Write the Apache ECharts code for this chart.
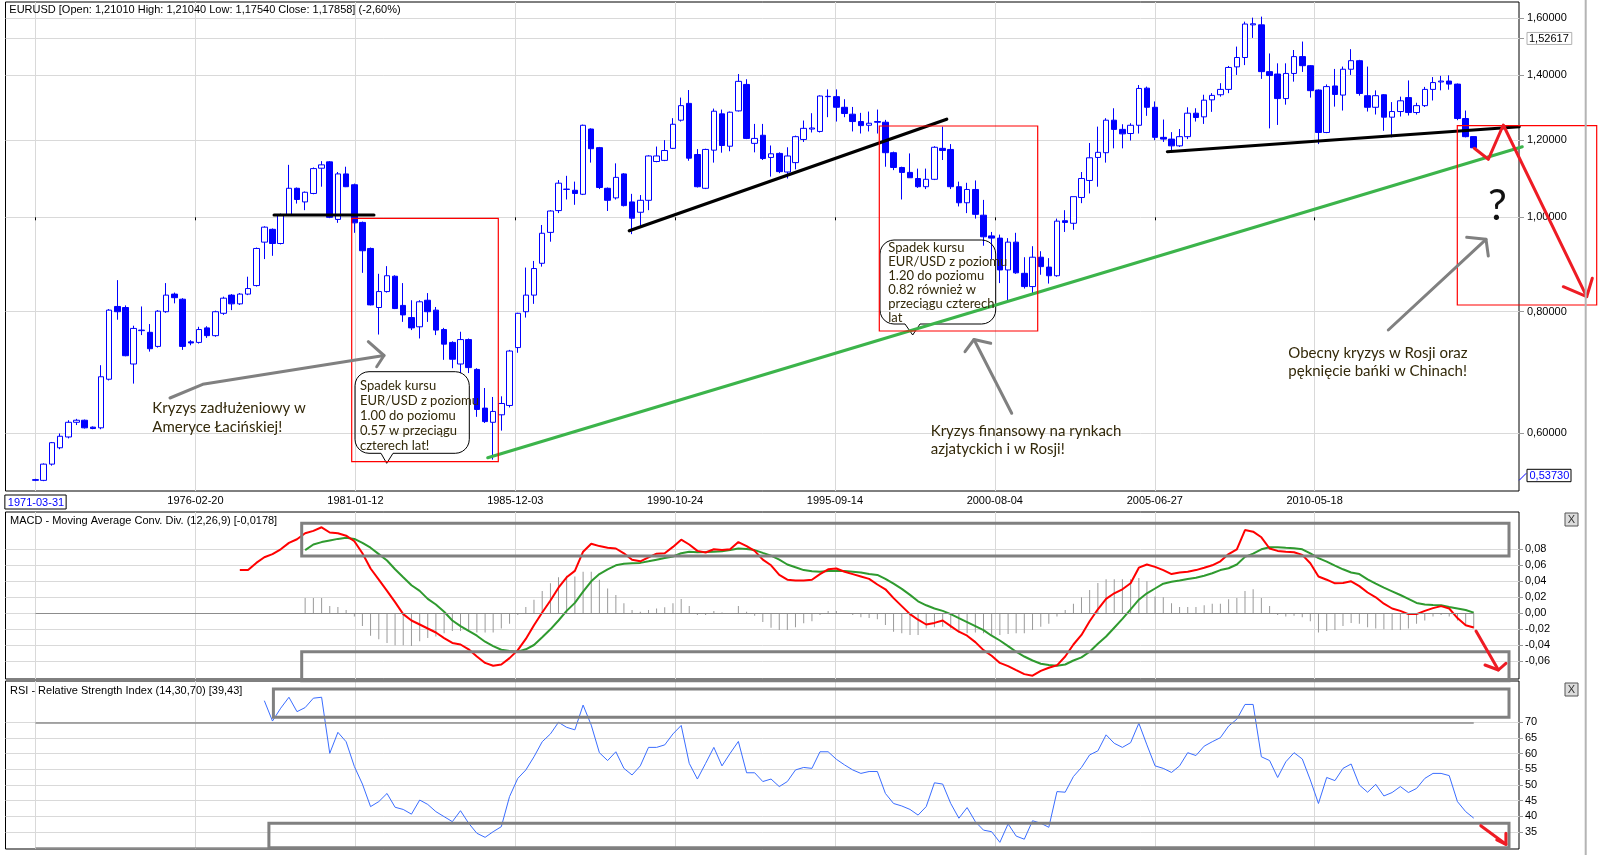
<!DOCTYPE html>
<html><head><meta charset="utf-8">
<script src="https://cdn.jsdelivr.net/npm/echarts@6/dist/echarts.min.js"></script>
<style>html,body{margin:0;padding:0;background:#fff}#c{width:1599px;height:855px}</style>
</head><body><div id="c"></div>
<script>
// ---------------- DATA (quarterly EUR/USD) ----------------
const OPEN = [.537,.537,.558,.580,.595,.616,.619,.609,.608,.682,
.810,.808,.707,.765,.762,.737,.800,.834,.824,.745,
.744,.770,.756,.797,.832,.815,.834,.851,.943,.972,
.940,1.005,1.071,1.037,1.058,1.123,1.140,.995,1.108,1.080,
.988,.929,.808,.839,.870,.812,.789,.772,.822,.803,
.767,.744,.707,.749,.698,.637,.616,.627,.641,.735,
.800,.832,.897,.965,1.016,1.068,1.066,1.056,1.232,1.179,
1.071,1.047,1.108,1.037,1.012,1.041,1.141,1.144,1.177,1.258,
1.309,1.160,1.071,1.172,1.277,1.183,1.286,1.369,1.191,1.214,
1.152,1.163,1.113,1.138,1.202,1.232,1.225,1.330,1.330,1.297,
1.276,1.254,1.243,1.254,1.252,1.165,1.125,1.112,1.096,1.075,
1.094,1.177,1.174,1.075,1.035,1.068,1.005,.957,.952,.883,
.943,.876,.849,.910,.889,.871,.992,.986,1.048,1.091,
1.152,1.165,1.258,1.231,1.219,1.243,1.357,1.297,1.208,1.203,
1.184,1.210,1.279,1.268,1.320,1.336,1.353,1.427,1.459,1.576,
1.576,1.411,1.403,1.324,1.405,1.462,1.431,1.351,1.222,1.364,
1.335,1.419,1.448,1.333,1.297,1.336,1.267,1.284,1.327,1.281,
1.302,1.353,1.377,1.380,1.370,1.263,1.2101];
const HIGH = [.539,.559,.588,.600,.619,.621,.620,.610,.705,.805,
.862,.812,.774,.810,.777,.803,.856,.837,.826,.748,
.772,.773,.802,.829,.834,.836,.869,.931,.979,.974,
1.009,1.132,1.073,1.063,1.125,1.142,1.142,1.113,1.127,1.083,
.990,.931,.875,.891,.872,.856,.822,.822,.836,.809,
.770,.746,.763,.751,.700,.668,.654,.655,.731,.798,
.888,.902,.982,1.017,1.092,1.103,1.088,1.245,1.234,1.181,
1.073,1.136,1.110,1.057,1.054,1.158,1.182,1.200,1.264,1.327,
1.351,1.175,1.176,1.293,1.290,1.284,1.403,1.386,1.247,1.247,
1.185,1.166,1.180,1.213,1.257,1.279,1.334,1.353,1.353,1.322,
1.298,1.280,1.284,1.290,1.259,1.168,1.127,1.163,1.122,1.122,
1.183,1.239,1.189,1.088,1.085,1.091,1.042,.966,.960,.952,
.964,.910,.934,.923,.908,.997,1.017,1.050,1.113,1.192,
1.239,1.264,1.294,1.246,1.249,1.367,1.362,1.315,1.260,1.223,
1.232,1.297,1.294,1.336,1.341,1.373,1.430,1.497,1.588,1.603,
1.607,1.473,1.439,1.439,1.485,1.515,1.433,1.353,1.369,1.420,
1.428,1.488,1.451,1.428,1.350,1.338,1.313,1.330,1.382,1.311,
1.361,1.393,1.397,1.399,1.372,1.287,1.2104];
const LOW = [.536,.536,.556,.578,.593,.612,.607,.606,.606,.680,
.785,.720,.675,.757,.728,.735,.798,.816,.731,.739,
.742,.752,.754,.794,.803,.813,.832,.849,.906,.913,
.938,1.003,1.033,1.017,1.056,1.075,.998,.987,1.074,.964,
.877,.812,.758,.837,.805,.781,.766,.751,.781,.757,
.714,.700,.692,.692,.624,.615,.564,.604,.638,.726,
.789,.815,.890,.944,1.010,1.043,1.030,1.054,1.138,1.069,
1.015,1.043,1.026,.961,.980,1.017,1.139,1.142,1.175,1.254,
1.143,1.073,1.069,1.138,1.165,1.169,1.284,1.203,1.166,1.145,
1.101,1.110,1.096,1.120,1.195,1.222,1.222,1.267,1.254,1.267,
1.225,1.219,1.225,1.219,1.127,1.118,1.043,1.098,1.072,1.069,
1.092,1.145,1.069,1.026,1.010,.997,.935,.905,.856,.822,
.875,.845,.836,.873,.855,.869,.966,.971,1.034,1.058,
1.075,1.138,1.177,1.177,1.199,1.219,1.271,1.200,1.195,1.166,
1.181,1.203,1.254,1.247,1.283,1.330,1.341,1.400,1.433,1.528,
1.387,1.234,1.244,1.305,1.378,1.410,1.327,1.189,1.220,1.299,
1.287,1.400,1.333,1.284,1.275,1.227,1.208,1.269,1.272,1.275,
1.298,1.318,1.350,1.352,1.258,1.208,1.1754];
const CLOSE = [.538,.558,.587,.596,.616,.619,.608,.607,.686,.803,
.800,.721,.769,.766,.733,.801,.832,.827,.737,.743,
.767,.756,.800,.826,.815,.834,.845,.929,.977,.940,
1.005,1.071,1.043,1.061,1.122,1.132,1.000,1.108,1.075,.987,
.924,.813,.839,.871,.806,.794,.770,.819,.800,.766,
.741,.715,.749,.701,.635,.617,.632,.644,.729,.797,
.832,.886,.963,1.015,1.084,1.069,1.058,1.243,1.176,1.073,
1.041,1.099,1.028,.998,1.041,1.156,1.156,1.171,1.246,1.302,
1.150,1.075,1.174,1.285,1.185,1.282,1.379,1.205,1.205,1.149,
1.162,1.114,1.156,1.210,1.234,1.235,1.332,1.331,1.297,1.278,
1.254,1.242,1.249,1.252,1.165,1.125,1.112,1.098,1.075,1.094,
1.180,1.171,1.075,1.035,1.068,1.007,.955,.952,.883,.943,
.877,.849,.910,.890,.871,.991,.988,1.050,1.096,1.151,
1.166,1.258,1.231,1.218,1.243,1.356,1.297,1.208,1.203,1.184,
1.210,1.279,1.266,1.319,1.334,1.353,1.425,1.459,1.579,1.580,
1.411,1.398,1.324,1.405,1.462,1.431,1.349,1.222,1.362,1.337,
1.419,1.448,1.340,1.297,1.333,1.267,1.284,1.317,1.281,1.302,
1.353,1.375,1.380,1.370,1.263,1.210,1.17858];

const MACD_START = 25;
const MACD = [0.054,0.054,0.063,0.070,0.074,0.080,0.088,0.0925,0.100,0.103,
0.1075,0.101,0.100,0.097,0.090,0.075,0.056,0.042,0.028,0.014,
-0.001,-0.009,-0.014,-0.019,-0.024,-0.031,-0.037,-0.039,-0.045,-0.054,
-0.062,-0.0655,-0.064,-0.056,-0.046,-0.032,-0.015,0.001,0.016,0.032,
0.045,0.053,0.077,0.087,0.084,0.082,0.081,0.075,0.067,0.065,
0.070,0.0745,0.075,0.083,0.092,0.086,0.078,0.076,0.080,0.079,
0.080,0.089,0.084,0.078,0.067,0.060,0.048,0.042,0.041,0.041,
0.042,0.049,0.055,0.056,0.052,0.049,0.046,0.043,0.036,0.030,
0.019,0.009,-0.001,-0.008,-0.014,-0.012,-0.009,-0.016,-0.023,-0.028,
-0.036,-0.046,-0.053,-0.062,-0.066,-0.071,-0.076,-0.078,-0.072,-0.068,
-0.065,-0.054,-0.039,-0.027,-0.010,0.005,0.018,0.025,0.030,0.0375,
0.057,0.061,0.058,0.054,0.049,0.051,0.052,0.054,0.057,0.060,
0.065,0.074,0.080,0.104,0.102,0.095,0.081,0.078,0.077,0.0763,
0.073,0.0625,0.046,0.042,0.0375,0.038,0.040,0.034,0.026,0.020,
0.012,0.006,0.003,-0.001,-0.001,0.003,0.0065,0.009,0.006,-0.006,
-0.015,-0.0178];
const SIGNAL_START = 33;
const SIGNAL = [0.079,0.086,0.089,0.091,0.093,0.0943,0.093,0.088,0.082,0.074,
0.066,0.055,0.045,0.035,0.028,0.018,0.011,0.002,-0.009,-0.016,
-0.022,-0.028,-0.0355,-0.041,-0.0455,-0.047,-0.048,-0.045,-0.0396,-0.030,
-0.020,-0.009,0.003,0.013,0.027,0.040,0.049,0.055,0.060,0.062,
0.0625,0.063,0.065,0.067,0.069,0.071,0.075,0.0768,0.0762,0.0765,
0.077,0.0775,0.079,0.081,0.0805,0.079,0.0755,0.072,0.067,0.061,
0.0575,0.054,0.0525,0.052,0.053,0.053,0.0529,0.052,0.051,0.049,
0.048,0.043,0.037,0.0305,0.023,0.015,0.010,0.006,0.003,-0.001,
-0.006,-0.011,-0.016,-0.021,-0.028,-0.034,-0.041,-0.048,-0.054,-0.059,
-0.063,-0.0646,-0.0654,-0.064,-0.059,-0.055,-0.048,-0.038,-0.029,-0.018,
-0.007,0.005,0.017,0.025,0.031,0.037,0.0395,0.041,0.043,0.0445,
0.047,0.050,0.054,0.0563,0.061,0.0705,0.0745,0.080,0.0825,0.0825,
0.0818,0.0813,0.080,0.075,0.069,0.0646,0.0595,0.055,0.051,0.049,
0.0425,0.037,0.032,0.0275,0.0229,0.018,0.013,0.011,0.0104,0.010,
0.0078,0.006,0.0042,0.0008];
const HIST_START = 33;
const HIST = [0.019,0.019,0.019,0.009,0.008,0.004,-0.004,-0.016,-0.028,-0.0325,
-0.037,-0.040,-0.040,-0.041,-0.035,-0.031,-0.029,-0.025,-0.022,-0.022,
-0.022,-0.024,-0.024,-0.024,-0.019,-0.013,-0.002,0.008,0.017,0.028,
0.0375,0.045,0.047,0.046,0.052,0.052,0.042,0.031,0.023,0.0125,
0.004,0.002,0.004,0.006,0.0075,0.0125,0.018,0.009,-0.002,-0.002,
0.003,0.001,0.000,0.009,0.002,-0.003,-0.011,-0.018,-0.021,-0.021,
-0.0175,-0.0125,-0.010,-0.002,0.003,0.003,0.000,-0.002,-0.005,-0.006,
-0.0075,-0.0146,-0.023,-0.025,-0.027,-0.027,-0.019,-0.0175,-0.0167,-0.019,
-0.024,-0.025,-0.024,-0.025,-0.028,-0.027,-0.026,-0.025,-0.025,-0.021,
-0.0167,-0.013,-0.004,0.004,0.012,0.020,0.029,0.038,0.0425,0.0425,
0.0425,0.0425,0.044,0.040,0.021,0.020,0.0125,0.008,0.008,0.008,
0.010,0.012,0.012,0.0175,0.019,0.028,0.030,0.019,0.009,-0.002,
-0.004,-0.003,-0.005,-0.010,-0.024,-0.022,-0.021,-0.016,-0.012,-0.013,
-0.0175,-0.019,-0.020,-0.021,-0.021,-0.019,-0.013,-0.009,-0.004,-0.002,
-0.004,-0.009,-0.016,-0.019];
const RSI_START = 28;
const RSI = [76.9,70.4,74.5,78.0,73.4,74.7,77.7,78.0,60.1,66.8,
63.8,55.9,50.3,43.1,44.7,47.3,42.9,42.2,40.7,45.2,
43.8,41.5,39.9,38.3,41.8,37.8,34.6,33.3,35.1,36.7,
46.3,52.1,54.8,59.0,63.8,66.3,70.0,68.4,67.6,75.5,
69.1,60.3,57.8,60.6,55.3,53.2,56.1,62.0,62.0,62.8,
66.3,69.0,56.9,51.9,56.9,62.0,56.1,60.1,63.9,53.9,
53.9,51.1,51.9,49.5,51.1,54.8,55.6,55.3,60.6,60.6,
58.2,56.4,54.8,53.7,54.3,54.3,47.3,44.1,43.3,42.2,
40.4,43.1,50.7,50.3,44.1,39.4,42.8,38.3,35.6,35.1,
31.7,37.6,33.7,32.7,38.6,37.8,36.5,47.9,47.7,52.7,
55.6,59.6,60.9,66.0,63.3,62.0,63.5,69.7,62.8,56.1,
55.3,54.0,56.1,60.3,59.4,62.4,63.8,65.1,68.8,71.0,
75.7,75.7,59.0,57.8,52.4,57.4,60.3,58.3,51.6,44.1,
52.4,51.4,55.3,56.7,50.0,47.7,50.2,46.5,47.6,49.5,
47.6,48.9,52.1,53.7,53.7,53.0,44.7,41.5,39.43];

const X_LABELS = ['1971-03-31','1976-02-20','1981-01-12','1985-12-03','1990-10-24','1995-09-14','2000-08-04','2005-06-27','2010-05-18'];
const PRICE_TICKS = [0.6,0.8,1.0,1.2,1.4,1.6];
const PRICE_MARK = 1.52617;
const MACD_TICKS = [-0.06,-0.04,-0.02,0,0.02,0.04,0.06,0.08];
const RSI_TICKS = [35,40,45,50,55,60,65,70];

// ---------------- helpers ----------------
const DAY = 86400000;
const FIRST_QUARTER = Date.UTC(1971,2,31);
function quarterEnd(i){ const m = 2 + 3*i; return Date.UTC(1971 + Math.floor(m/12), (m%12)+1, 0); }
const DATES = CLOSE.map((_, i) => quarterEnd(i));
const LAST = DATES[DATES.length-1];
const X_MIN = FIRST_QUARTER - 335.2*DAY;
const X_MAX = X_MIN + 16912*DAY;
const LN = Math.log;
const xLabelTs = X_LABELS.map(s => Date.parse(s));
const xLabelMap = {}; X_LABELS.forEach((s,i)=>{ xLabelMap[xLabelTs[i]] = s; });

const candleData = CLOSE.map((c,i)=>[DATES[i], LN(OPEN[i]), LN(c), LN(LOW[i]), LN(HIGH[i])]);
const macdData = MACD.map((v,k)=>[DATES[MACD_START+k], v]);
const signalData = SIGNAL.map((v,k)=>[DATES[SIGNAL_START+k], v]);
const histData = HIST.map((v,k)=>[DATES[HIST_START+k], v]);
const rsiData = RSI.map((v,k)=>[DATES[RSI_START+k], v]);

const priceTickLn = PRICE_TICKS.concat([PRICE_MARK]).map(LN);
const AX_FONT = 'Liberation Sans';
const NOTE_FONT = 'Lato';
const NOTE_COLOR = '#33290a';

const GRID_L = 5.5, GRID_W = 1513.5;

function xAxisFor(gi, withLabels){
  return {
    gridIndex: gi, type: 'value', min: X_MIN, max: X_MAX,
    axisLine: {show:false},
    axisTick: {show: withLabels, length: 3, customValues: xLabelTs, lineStyle:{color:'#000'}},
    axisLabel: withLabels ? {
      show: true, customValues: xLabelTs, margin: 4, fontSize: 11, color: '#000', fontFamily: AX_FONT,
      formatter: v => { const s = xLabelMap[v] || ''; return v === xLabelTs[0] ? '{b|' + s + '}' : s; },
      rich: { b: { color:'#0000ff', borderColor:'#000', borderWidth:1, padding:[2,2,1,3], fontSize:11, fontFamily: AX_FONT } }
    } : {show:false},
    splitLine: {show:true, lineStyle:{color:'#d9d9d9', width:1}}
  };
}

// ---------------- graphics (annotations drawn on top) ----------------
const G = [];
function L(x1,y1,x2,y2,c,w){ G.push({type:'line', z:100, silent:true, shape:{x1,y1,x2,y2}, style:{stroke:c, lineWidth:w, lineCap:'round'}}); }
function P(pts,c,w){ G.push({type:'polyline', z:100, silent:true, shape:{points:pts}, style:{stroke:c, lineWidth:w, fill:null, lineJoin:'round', lineCap:'round'}}); }
function R(x,y,w,h,c,lw){ G.push({type:'rect', z:100, silent:true, shape:{x,y,width:w,height:h}, style:{stroke:c, lineWidth:lw, fill:null}}); }
function T(x,y,s,size,family,c,align){ G.push({type:'text', z:101, silent:true, x, y, style:{text:s, fontSize:size, fontFamily:family, fill:c, textAlign:align||'left', align:align||'left', textVerticalAlign:'middle', verticalAlign:'middle'}}); }
function arcPts(cx,cy,r,a0,a1){ const out=[]; for(let k=0;k<=6;k++){ const a=a0+(a1-a0)*k/6; out.push([cx+r*Math.cos(a), cy+r*Math.sin(a)]); } return out; }
function bubble(x0,y0,x1,y1,tl,tr,tx,ty){
  const r = 14, H = Math.PI/2;
  let pts = [];
  pts = pts.concat(arcPts(x1-r,y0+r,r,-H,0));
  pts = pts.concat(arcPts(x1-r,y1-r,r,0,H));
  pts.push([tr,y1],[tx,ty],[tl,y1]);
  pts = pts.concat(arcPts(x0+r,y1-r,r,H,2*H));
  pts = pts.concat(arcPts(x0+r,y0+r,r,2*H,3*H));
  pts.push(pts[0]);
  G.push({type:'polyline', z:99, silent:true, shape:{points:pts}, style:{stroke:'#000', lineWidth:1, fill:null}});
}

// titles
T(9.3,10,'EURUSD [Open: 1,21010 High: 1,21040 Low: 1,17540 Close: 1,17858] (-2,60%)',11,AX_FONT,'#000');
T(10,520.7,'MACD - Moving Average Conv. Div. (12,26,9) [-0,0178]',11,AX_FONT,'#000');
T(10,690.7,'RSI - Relative Strength Index (14,30,70) [39,43]',11,AX_FONT,'#000');

// bubbles + texts
bubble(355,371.7,469.3,453.3,381,393,386.7,463.3);
['Spadek kursu','EUR/USD z poziomu','1.00 do poziomu','0.57 w przeciągu','czterech lat!'].forEach((s,k)=>T(360,386+15*k,s,13,NOTE_FONT,NOTE_COLOR));
bubble(880,240,995.7,324,905,920,912.7,335);
['Spadek kursu','EUR/USD z poziomu','1.20 do poziomu','0.82 również w','przeciągu czterech','lat'].forEach((s,k)=>T(888.3,248.3+14*k,s,13,NOTE_FONT,NOTE_COLOR));
T(152.3,408.3,'Kryzys zadłużeniowy w',15,NOTE_FONT,NOTE_COLOR);
T(152.3,426.7,'Ameryce Łacińskiej!',15,NOTE_FONT,NOTE_COLOR);
T(930.7,430.7,'Kryzys finansowy na rynkach',15,NOTE_FONT,NOTE_COLOR);
T(930.7,448.7,'azjatyckich i w Rosji!',15,NOTE_FONT,NOTE_COLOR);
T(1288.3,352.7,'Obecny kryzys w Rosji oraz',15,NOTE_FONT,NOTE_COLOR);
T(1288.3,370.7,'pęknięcie bańki w Chinach!',15,NOTE_FONT,NOTE_COLOR);
T(1497.3,206,'?',42,NOTE_FONT,'#111','center');

// trend lines
L(274,215,374,215,'#000',3);
L(629.3,230.7,946.7,119.3,'#000',3.3);
L(1167.3,151.7,1519.3,126.7,'#000',3);
L(487.7,457.7,1522.3,146.7,'#3cb44b',3);
// red frames
R(351.7,218.3,146.6,243.4,'#ff0000',1.2);
R(879.3,126,158.4,205,'#ff0000',1.2);
R(1457.3,125.7,139.4,179.3,'#ff0000',1.2);
// gray arrows
P([[170,398],[202.7,384.3],[384,355.5]],'#808080',3);
P([[368.3,341.7],[384,355.5],[376.7,366.7]],'#808080',3);
L(1011.7,413.3,974,339.5,'#808080',3);
P([[965,351.7],[974,339.5],[990.7,343.3]],'#808080',3);
L(1388.3,330,1486,239.3,'#808080',3);
P([[1466.7,237.3],[1486,239.3],[1488.3,256]],'#808080',3);
// red zigzag forecast
P([[1474.3,148.3],[1488.3,159.3],[1503.3,125],[1586.7,296.7]],'#ee1c24',3);
P([[1563.3,286.7],[1586.7,296.7],[1592.3,278.3]],'#ee1c24',3);
// indicator frames
R(301.7,523.3,1207.3,32.7,'#808080',3);
R(301.7,651.7,1207.3,29,'#808080',3);
R(273.4,689,1235.6,28.3,'#808080',3);
R(268.9,823.3,1240.1,24.4,'#808080',3);
L(1476,631,1498.4,670,'#ee1c24',3);
P([[1485,665],[1498.4,670],[1505.9,663.3]],'#ee1c24',3);
L(1480.8,825.7,1505.9,844.3,'#ee1c24',3);
P([[1496.8,840],[1505.9,844.3],[1505.9,833.3]],'#ee1c24',3);
// misc chrome
L(1585.7,0,1585.7,855,'#b4b4b4',2);
G.push({type:'rect', z:100, silent:true, shape:{x:1527,y:469.3,width:44,height:12.4}, style:{stroke:'#000', lineWidth:1, fill:'#fff'}});
T(1529.5,475.8,'0,53730',11,AX_FONT,'#0000ff');
L(1519.5,480,1526,473.5,'#0000ff',1);
[[1565,513],[1565,683]].forEach(([x,y])=>{
  G.push({type:'rect', z:100, silent:true, shape:{x,y,width:13,height:13}, style:{stroke:'#555', lineWidth:1, fill:'#dcdcdc'}});
  T(x+6.5,y+7,'X',11,AX_FONT,'#333','center');
});

// ---------------- chart ----------------
const chart = echarts.init(document.getElementById('c'), null, {renderer:'canvas'});
chart.setOption({
  animation: false,
  backgroundColor: '#fff',
  grid: [
    {left: GRID_L, top: 2, width: GRID_W, height: 489, show:true, borderColor:'#000', borderWidth:1, backgroundColor:'transparent'},
    {left: GRID_L, top: 512, width: GRID_W, height: 167, show:true, borderColor:'#000', borderWidth:1, backgroundColor:'transparent'},
    {left: GRID_L, top: 681, width: GRID_W, height: 168, show:true, borderColor:'#000', borderWidth:1, backgroundColor:'transparent'}
  ],
  xAxis: [xAxisFor(0,true), xAxisFor(1,false), xAxisFor(2,false)],
  yAxis: [
    { gridIndex:0, type:'value', position:'right', min: -0.6469, max: 0.5089,
      axisLine:{show:false},
      axisTick:{show:true, length:5, customValues: priceTickLn, lineStyle:{color:'#999'}},
      axisLabel:{ customValues: priceTickLn, margin: 8, fontSize:11, color:'#000', fontFamily: AX_FONT,
        formatter: v => { const s = Math.exp(v).toFixed(5).replace('.', ','); return Math.abs(v-LN(PRICE_MARK))<1e-9 ? '{g|'+s+'}' : s; },
        rich:{ g:{ borderColor:'#b0b0b0', borderWidth:1, padding:[1,3,0,2], fontSize:11, fontFamily: AX_FONT, color:'#000' } } },
      splitLine:{show:true, lineStyle:{color:'#d9d9d9', width:1}} },
    { gridIndex:1, type:'value', position:'right', min: -0.0821, max: 0.1266,
      axisLine:{show:false},
      axisTick:{show:true, length:4, customValues: MACD_TICKS, lineStyle:{color:'#999'}},
      axisLabel:{ customValues: MACD_TICKS, margin: 6, fontSize:11, color:'#000', fontFamily: AX_FONT,
        formatter: v => v.toFixed(2).replace('.', ',') },
      splitLine:{show:true, lineStyle:{color:'#d9d9d9', width:1}} },
    { gridIndex:2, type:'value', position:'right', min: 29.58, max: 83.18,
      axisLine:{show:false},
      axisTick:{show:true, length:4, customValues: RSI_TICKS, lineStyle:{color:'#999'}},
      axisLabel:{ customValues: RSI_TICKS, margin: 6, fontSize:11, color:'#000', fontFamily: AX_FONT,
        formatter: v => String(v) },
      splitLine:{show:true, lineStyle:{color:'#d9d9d9', width:1}} }
  ],
  series: [
    { type:'candlestick', name:'EURUSD', xAxisIndex:0, yAxisIndex:0,
      dimensions:['t','open','close','lowest','highest'], encode:{x:0, y:[1,2,3,4]},
      data: candleData, barWidth: 6,
      itemStyle:{ color:'#ffffff', color0:'#0000ff', borderColor:'#0000ff', borderColor0:'#0000ff', borderColorDoji:'#0000ff', borderWidth:1 } },
    { type:'bar', name:'hist', xAxisIndex:1, yAxisIndex:1, data: histData, barWidth:1,
      itemStyle:{color:'#9a9a9a'},
      markLine:{ silent:true, symbol:['none','none'], label:{show:false}, lineStyle:{color:'#8c8c8c', width:1, type:'solid'},
        data:[[{coord:[FIRST_QUARTER,0]},{coord:[LAST,0]}]] } },
    { type:'line', name:'MACD', xAxisIndex:1, yAxisIndex:1, data: macdData, showSymbol:false,
      lineStyle:{color:'#ff0000', width:2}, z:4 },
    { type:'line', name:'Signal', xAxisIndex:1, yAxisIndex:1, data: signalData, showSymbol:false,
      lineStyle:{color:'#2f9a2f', width:2}, z:3 },
    { type:'line', name:'RSI', xAxisIndex:2, yAxisIndex:2, data: rsiData, showSymbol:false,
      lineStyle:{color:'#3a6dff', width:1},
      markLine:{ silent:true, symbol:['none','none'], label:{show:false}, lineStyle:{color:'#8c8c8c', width:1.5, type:'solid'},
        data:[[{coord:[FIRST_QUARTER,70]},{coord:[LAST,70]}],[{coord:[FIRST_QUARTER,30]},{coord:[LAST,30]}]] } }
  ],
  graphic: G
});
</script>
</body></html>
